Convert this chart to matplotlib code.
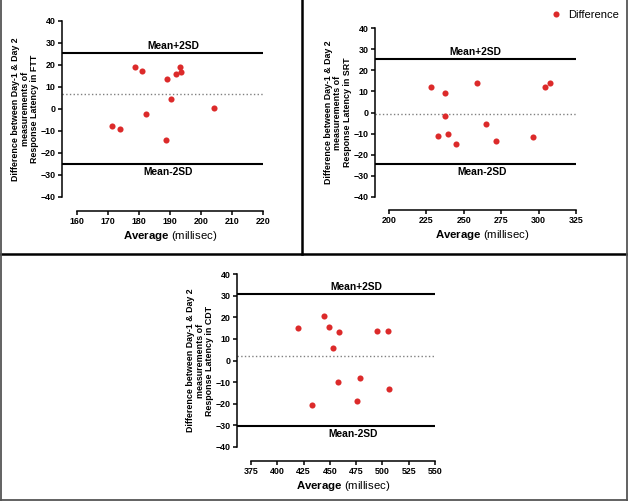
import matplotlib
matplotlib.use("Agg")
import matplotlib.pyplot as plt
from matplotlib.lines import Line2D

plt.rcParams['font.family'] = ['Liberation Sans', 'DejaVu Sans']
plt.rcParams['font.weight'] = 'bold'
plt.rcParams['mathtext.fontset'] = 'custom'
plt.rcParams['mathtext.bf'] = 'Liberation Sans:bold'
plt.rcParams['mathtext.rm'] = 'Liberation Sans'

W, H = 628, 501
RED = '#dc2a2a'

# FTT panel
ftt_avg = [171.4, 174.0, 178.8, 181.0, 182.2, 189.0, 188.8, 190.2, 191.8, 193.3, 193.7, 204.2]
ftt_diff = [-7.9, -9.1, 19.2, 17.1, -2.4, 13.8, -14.2, 4.5, 16.1, 19.2, 16.6, 0.3]
ftt_limits = [25.3, 6.8, -24.9]          # mean+2SD, mean, mean-2SD
ftt_xticks = [160, 170, 180, 190, 200, 210, 220]

# SRT panel
srt_avg = [228.4, 237.3, 237.7, 232.9, 239.2, 244.8, 259.0, 264.6, 271.7, 296.5, 304.3, 307.8]
srt_diff = [12.3, 9.1, -1.7, -10.9, -10.2, -14.7, 14.0, -5.5, -13.4, -11.8, 12.0, 14.0]
srt_limits = [25.3, -0.7, -24.2]
srt_xticks = [200, 225, 250, 275, 300, 325]

# CDT panel
cdt_avg = [419.9, 433.1, 444.2, 448.9, 458.6, 453.0, 458.0, 478.9, 475.7, 495.0, 505.1, 506.3]
cdt_diff = [15.1, -20.4, 20.8, 15.6, 13.1, 6.0, -10.0, -8.2, -18.5, 13.7, 13.7, -13.1]
cdt_limits = [30.6, 2.3, -30.3]
cdt_xticks = [375, 400, 425, 450, 475, 500, 525, 550]

yticks = [-40, -30, -20, -10, 0, 10, 20, 30, 40]

fig = plt.figure(figsize=(W / 100, H / 100), dpi=100)


def panel(box, x0px, y0px, xticks, avg, diff, limits, test, plus_x, minus_x):
    left, top, right, bottom = box
    ax = fig.add_axes([left / W, 1 - bottom / H, (right - left) / W, (bottom - top) / H])
    sx = (right - x0px) / (xticks[-1] - xticks[0])
    sy = (y0px - top) / (yticks[-1] - yticks[0])
    ax.set_xlim(xticks[0] - (x0px - left) / sx, xticks[-1])
    ax.set_ylim(yticks[0] - (bottom - y0px) / sy, yticks[-1])
    for s in ['top', 'right']:
        ax.spines[s].set_visible(False)
    ax.spines['left'].set_bounds(yticks[0], yticks[-1])
    ax.spines['bottom'].set_bounds(xticks[0], xticks[-1])
    for s in ['left', 'bottom']:
        ax.spines[s].set_linewidth(1.1)
    ax.set_xticks(xticks)
    ax.set_yticks(yticks)
    ax.tick_params(direction='out', length=3, width=1.1, labelsize=6.4, pad=1.5)

    ax.axhline(limits[0], color='black', lw=1.5)
    ax.axhline(limits[2], color='black', lw=1.5)
    ax.axhline(limits[1], color='#808080', lw=1.0, ls=':')
    ax.plot(avg, diff, 'o', color=RED, markersize=4.4, markeredgewidth=0, label='Difference')

    ax.annotate('Mean+2SD', xy=(plus_x, limits[0]), xytext=(0, 2), textcoords='offset pixels',
                ha='center', va='bottom', fontsize=7.4)
    ax.annotate('Mean-2SD', xy=(minus_x, limits[2]), xytext=(0, -3), textcoords='offset pixels',
                ha='center', va='top', fontsize=7.4)

    ax.annotate('Difference between Day-1 & Day 2\nmeasurements of\nResponse Latency in ' + test,
                xy=(0, 0), xycoords=('axes fraction', 'data'), xytext=(-37, 0),
                textcoords='offset pixels', rotation=90, ha='center', va='center',
                multialignment='center', fontsize=6.4, linespacing=1.12)
    ax.annotate(r'$\mathbf{Average}$ (millisec)', xy=((xticks[0] + xticks[-1]) / 2, 0),
                xycoords=('data', 'axes fraction'), xytext=(0, -25), textcoords='offset pixels',
                ha='center', va='center', fontsize=8.2, fontweight='normal')
    return ax


ax1 = panel((62, 21, 263, 211), 77, 197, ftt_xticks, ftt_avg, ftt_diff, ftt_limits, 'FTT', 191, 189.3)
ax2 = panel((375, 28, 576, 210), 389, 197, srt_xticks, srt_avg, srt_diff, srt_limits, 'SRT', 257.5, 262)
ax3 = panel((237, 274, 435, 461), 251, 447, cdt_xticks, cdt_avg, cdt_diff, cdt_limits, 'CDT', 475, 472)

ax2.legend(loc='center left', bbox_to_anchor=(550 / W, 1 - 15 / H), bbox_transform=fig.transFigure,
           frameon=False, prop={'size': 8, 'weight': 'normal'}, handlelength=1, handletextpad=0.6,
           borderaxespad=0, borderpad=0)

# panel dividers and outer frame
def fline(xs, ys, color, lw):
    fig.add_artist(Line2D([x / W for x in xs], [1 - y / H for y in ys], color=color, lw=lw))

fline([0, W], [254, 254], 'black', 1.8)
fline([302, 302], [0, 254], 'black', 1.8)
fline([0.7, 0.7], [0, H], '#555555', 1.3)
fline([626.5, 626.5], [0, H], '#555555', 1.3)
fline([0, W], [500, 500], '#555555', 1.3)

fig.savefig('out.png', dpi=100)
